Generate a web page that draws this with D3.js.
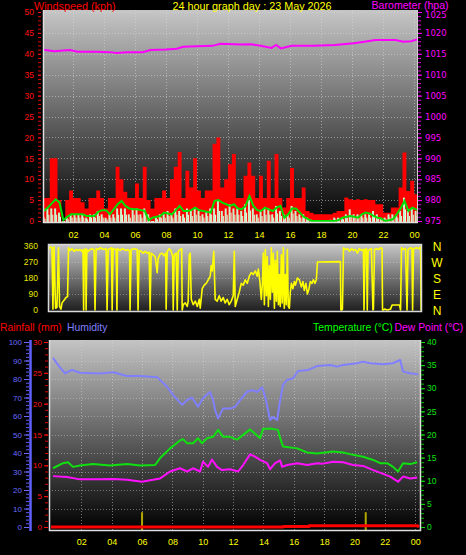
<!DOCTYPE html>
<html><head><meta charset="utf-8">
<script src="https://cdn.jsdelivr.net/npm/d3@7"></script>
<style>
body{margin:0;background:#000;}
svg{display:block;font-family:"Liberation Sans",Arial,sans-serif;}
</style>
</head><body>
<svg id="c" width="466" height="555"></svg>
<script>
// ---------------- DATA ----------------
const chartTitle = "24 hour graph day : 23 May 2026";
const timeTickHours = [2,4,6,8,10,12,14,16,18,20,22,24];
const timeTickLabels = ["02","04","06","08","10","12","14","16","18","20","22","00"];
const windTicks = [0,5,10,15,20,25,30,35,40,45,50];
const baroTicks = [975,980,985,990,995,1000,1005,1010,1015,1020,1025];
const dirTicks = [0,90,180,270,360];
const dirLetters = ["N","E","S","W","N"];
const humTicks = [0,10,20,30,40,50,60,70,80,90,100];
const rainTicks = [0,5,10,15,20,25,30];
const tempTicks = [0,5,10,15,20,25,30,35,40];

// wind, one value every quarter hour from 00:00
const windGust = [5.5,5.5,15,15,5,0,5,7.3,5.5,5.5,4.5,3,5.5,5.5,7.3,5.5,3,5.5,5.5,13,
  10,7,5.5,5.5,9,5.5,13,5,3,5.5,5.5,7.3,5.5,10,13,16.5,5.5,12,8,15,
  7.3,5.5,7.3,7.3,18.5,20,8,10,13.6,16,5.5,5.5,10.8,14,10.8,5.5,10.8,5.5,14.4,5.5,
  16,5.5,3.2,5.5,12.7,5.5,5.5,8,2.4,2,1.6,1.6,1.6,1.6,1.6,2,2.4,2.4,5.6,5.2,
  5,5.2,5,5.2,5,5,4,4,2,2,3.2,3.2,8,16.4,7.2,9.6,6.4,8];
const windSpeed = [1,3,3,3,2,0,0.8,1.6,1.6,1.6,1.6,0.8,1.6,1.6,2.4,1.6,0.8,1.6,1.6,3,
  3,3,1.6,3,3,1.6,3,1.6,0,0.8,1.6,1.6,2.4,1.6,3,2.4,1.6,3,2.4,3,
  2.4,1.6,2.4,3,3,4.8,2.4,3,4,3,3,2.4,4,5,3,1.6,2.4,3,3,1.6,
  3.6,2.4,1.6,1.6,3.6,2.4,1.6,1.6,0.8,0.3,0,0,0,0,0.3,0.8,0.8,0.8,1.6,2.8,
  1.6,1.6,1.6,1.6,1.6,2.4,1.6,0.8,0.8,1.6,1.6,1.6,2.4,5.6,2.4,3,2.4,3];
const windAvg = [2.4,3.2,4.2,5.2,4.4,0.2,1,1.6,1.6,1.6,1.6,1.2,1.2,1.2,2.2,2.6,2.6,1.6,2.8,4,
  4.8,3.6,3,2.8,2.8,2.6,2.4,0.2,0.8,1,1.2,2,1.8,1.6,2.6,3.6,2.4,2.4,2.6,3.2,
  2.6,2.4,2.2,2,4.8,5,4.4,4,3.6,4,3,2.8,3.6,6,3.6,2.6,2.4,3.2,2.8,2.4,
  3.2,3.6,0.8,1.6,3,3,2,1,0.5,0,0,0,0,0,0,0,0.2,0.8,1,1.2,
  1,0.8,1.6,2,1.8,1.2,0.8,0.6,0,0.2,0.4,1.6,3,4.8,2.4,3.2,2.8,2.4];

const baroHours = [0,0.8,1.8,2.3,3.5,4.4,4.8,5.5,6.5,7.0,8.0,8.7,9.1,10.0,11.0,11.5,12.8,13.5,14.1,14.8,15.1,15.4,16.1,17.5,18.9,20.1,20.8,21.5,22.8,23.3,23.8,24.25];
const baroValues = [1016.0,1015.6,1015.9,1015.5,1015.5,1015.4,1015.2,1015.4,1015.4,1015.9,1016.0,1016.2,1016.7,1016.8,1016.9,1017.4,1017.2,1017.3,1016.9,1016.4,1017.1,1016.3,1016.9,1016.9,1017.1,1017.5,1017.9,1018.3,1018.3,1017.9,1018.0,1018.5];

const dirHours = [0.03,0.13,0.26,0.32,0.39,0.49,0.58,0.68,0.75,0.84,0.91,1.04,1.17,1.27,1.33,1.43,1.56,1.69,1.82,1.95,
  2.08,2.21,2.27,2.31,2.35,2.44,2.47,2.52,2.60,2.73,2.86,2.99,3.05,3.12,3.25,3.38,3.51,3.64,3.77,3.83,
  3.90,4.03,4.12,4.16,4.22,4.42,4.47,4.51,4.68,4.81,4.94,5.06,5.19,5.29,5.32,5.39,5.58,5.78,5.84,5.91,
  6.04,6.17,6.30,6.43,6.56,6.62,6.69,6.82,6.95,7.08,7.14,7.27,7.40,7.53,7.63,7.66,7.73,7.86,7.99,8.08,
  8.12,8.18,8.31,8.38,8.44,8.57,8.67,8.70,8.77,8.90,9.03,9.09,9.16,9.22,9.29,9.42,9.55,9.68,9.81,9.87,
  10.00,10.13,10.26,10.39,10.52,10.58,10.65,10.75,10.84,10.97,11.10,11.23,11.36,11.49,11.62,11.75,11.88,12.01,12.08,12.14,
  12.27,12.40,12.53,12.66,12.79,12.92,13.05,13.18,13.31,13.44,13.57,13.64,13.73,13.83,13.90,13.96,14.03,14.09,14.16,14.22,
  14.29,14.35,14.42,14.48,14.55,14.61,14.68,14.74,14.81,14.87,14.94,15.00,15.06,15.13,15.19,15.26,15.32,15.39,15.45,15.52,
  15.58,15.65,15.71,15.78,15.88,15.97,16.04,16.17,16.30,16.43,16.53,16.62,16.72,16.82,16.92,17.01,17.11,17.21,17.31,17.40,
  17.47,18.96,18.99,19.06,19.09,19.16,19.29,19.42,19.55,19.68,19.81,19.94,20.06,20.19,20.32,20.45,20.49,20.55,20.65,20.70,
  20.75,20.84,20.97,21.07,21.10,21.17,21.30,21.43,21.56,21.66,21.69,21.75,21.82,22.01,22.21,22.31,22.79,22.86,22.92,23.05,
  23.18,23.28,23.34,23.51,23.60,23.64,23.70,23.90,24.09,24.16,24.19,24.22];
const dirDegrees = [340,355,350,5,355,10,15,350,20,5,40,55,70,75,350,335,345,330,340,335,
  340,330,340,0,335,345,0,340,330,340,345,335,0,345,340,350,345,340,345,0,
  340,345,350,0,345,340,0,345,335,345,340,335,340,330,0,340,345,340,0,335,
  330,320,330,320,325,0,320,310,300,210,290,315,320,305,320,5,330,345,330,300,
  0,310,320,0,330,340,345,0,30,40,20,50,310,320,60,30,50,20,60,10,
  120,140,150,170,190,250,220,330,60,50,80,50,70,40,60,30,50,80,330,20,
  60,100,150,140,170,150,190,210,200,220,190,230,170,60,150,320,30,340,80,300,
  20,250,60,350,100,320,10,280,50,330,30,200,20,310,40,350,10,200,30,340,
  20,10,100,150,120,160,140,180,170,130,160,110,150,90,120,160,150,170,150,170,
  270,272,0,0,5,350,340,345,330,345,335,340,320,345,335,340,0,340,345,0,
  330,340,345,0,5,340,345,340,350,345,0,0,5,0,5,28,28,0,350,340,
  345,0,340,350,345,0,345,350,345,355,0,0];

const humHours = [0.13,0.46,0.92,1.38,1.91,3.23,4.09,5.01,5.87,6.99,7.65,8.04,8.64,8.97,9.29,9.69,10.02,10.48,10.68,10.81,
  11.01,11.34,11.80,12.13,12.46,12.92,13.25,13.58,13.91,14.11,14.30,14.44,14.63,14.90,15.10,15.29,15.56,15.95,16.28,16.94,
  17.53,18.39,18.85,19.25,20.17,20.57,21.03,21.89,22.54,23.01,23.20,23.67,24.19];
const humValues = [91.5,87.6,83.1,84.9,83.4,83.0,83.6,81.6,81.6,81.0,75.8,71.4,66.0,68.6,70.0,65.0,69.7,73.0,68.6,63.3,
  58.7,64.0,64.0,65.0,68.6,73.1,74.0,73.0,75.5,70.5,63.2,57.8,59.5,57.8,68.6,76.8,79.5,80.4,84.3,84.9,
  87.0,87.6,86.7,87.6,88.5,89.4,88.5,88.0,88.5,90.3,84.0,83.1,82.5];

const tempHours = [0.13,0.79,1.12,1.45,1.91,2.77,3.89,5.01,5.87,6.86,7.19,7.85,8.50,8.70,8.97,9.36,9.69,9.95,10.28,10.68,
  11.01,11.34,11.80,12.26,13.12,13.78,13.97,14.44,14.96,15.10,15.29,16.22,16.88,17.53,18.59,19.25,19.91,20.57,21.23,21.69,
  22.15,22.54,22.87,23.20,23.67,24.13];
const tempValues = [12.7,13.8,14.0,13.0,13.3,13.6,13.3,13.6,13.3,13.4,14.9,17.0,18.7,19.0,18.1,18.1,19.2,18.1,19.2,19.5,
  21.0,19.5,19.5,18.9,21.1,19.2,21.2,21.3,21.0,19.2,17.4,17.0,16.1,15.9,16.3,16.1,15.6,15.2,14.5,13.8,
  13.8,13.0,12.0,13.8,13.6,14.0];

const dewHours = [0.13,1.05,1.91,3.23,4.09,5.01,6.00,6.72,7.19,7.85,8.50,8.97,9.36,9.82,10.02,10.35,10.61,10.94,11.27,11.80,
  12.33,12.66,13.12,13.45,13.78,14.24,14.44,14.77,15.10,15.23,15.56,16.22,16.88,17.53,17.93,18.59,19.25,19.91,20.57,21.23,
  21.89,22.35,22.87,23.20,23.67,24.13];
const dewValues = [11.0,10.8,10.3,10.3,10.4,10.2,9.8,10.2,10.5,12.0,12.7,12.0,12.7,12.0,14.1,13.0,14.6,13.0,12.3,12.5,
  12.0,13.4,15.7,15.2,14.5,13.8,12.5,13.8,14.4,13.0,13.4,13.8,13.4,13.8,13.7,14.1,14.0,13.4,13.2,12.3,
  11.5,10.9,9.8,10.9,10.5,10.7];

const rainHours = [0,15.3,15.3,17.0,17.0,24.15,24.25];
const rainValues = [0,0,0.1,0.1,0.2,0.2,0];
const rainRateHours = [6.0,20.74];
const rainRateValues = [2.4,2.4];

// ---------------- DRAW ----------------
const svg = d3.select("#c");
const defs = svg.append("defs");
function vgrad(id, c0, c1){
  const g = defs.append("linearGradient").attr("id",id).attr("x1",0).attr("y1",0).attr("x2",0).attr("y2",1);
  g.append("stop").attr("offset",0).attr("stop-color",c0);
  g.append("stop").attr("offset",1).attr("stop-color",c1);
}
vgrad("gTop","#c6c6c6","#030303");
vgrad("gMid","#c8c8c8","#1c1c1c");
vgrad("gBot","#c4c4c4","#000000");
function clip(id,x,y,w,h){defs.append("clipPath").attr("id",id).append("rect").attr("x",x).attr("y",y).attr("width",w).attr("height",h);}
const fmtInt = d3.format("d");

svg.append("rect").attr("width",466).attr("height",555).attr("fill","#000");

// ===== TOP PANEL =====
const T = {x0:43,x1:418,y0:10,y1:222};
const xTop = d3.scaleLinear().domain([0,24.25]).range([42,418]);
const yWind = d3.scaleLinear().domain([0,50]).range([221,12]);
const yBaro = d3.scaleLinear().domain([975,1025]).range([221,12]);
clip("cTop",T.x0,T.y0,T.x1-T.x0,T.y1-T.y0);
clip("cRightAx",418,11,48,240);
svg.append("rect").attr("x",T.x0).attr("y",T.y0).attr("width",T.x1-T.x0).attr("height",T.y1-T.y0).attr("fill","url(#gTop)");
const gTop = svg.append("g").attr("clip-path","url(#cTop)");
// grid
gTop.selectAll(".hg").data(windTicks.slice(1)).join("line")
  .attr("x1",T.x0).attr("x2",T.x1).attr("y1",d=>Math.round(yWind(d))+0.5).attr("y2",d=>Math.round(yWind(d))+0.5)
  .attr("stroke","#d8d8d8").attr("stroke-opacity",0.55).attr("stroke-dasharray","1,2");
gTop.selectAll(".vg").data(timeTickHours).join("line")
  .attr("y1",T.y0).attr("y2",T.y1).attr("x1",d=>Math.round(xTop(d))+0.5).attr("x2",d=>Math.round(xTop(d))+0.5)
  .attr("stroke","#d8d8d8").attr("stroke-opacity",0.55).attr("stroke-dasharray","1,2");
// gust area
const qh = d3.range(windGust.length).map(i=>i*0.25);
gTop.append("path").datum(qh.map((h,i)=>[h,windGust[i]]))
  .attr("d", d3.area().curve(d3.curveStepAfter).x(d=>xTop(d[0])).y0(yWind(0)+1).y1(d=>yWind(d[1])))
  .attr("fill","#ff0000");
// wind speed bars
gTop.selectAll(".ws").data(qh.map((h,i)=>[h,windSpeed[i]])).join("rect")
  .attr("x",d=>xTop(d[0])+0.5).attr("width",2)
  .attr("y",d=>yWind(d[1])).attr("height",d=>yWind(0)+1-yWind(d[1]))
  .attr("fill","#c8f2c8");
gTop.selectAll(".ws2").data(qh.map((h,i)=>[h,windSpeed[i]])).join("rect")
  .attr("x",d=>xTop(d[0])+2.5).attr("width",1)
  .attr("y",d=>yWind(d[1]*0.5)).attr("height",d=>yWind(0)+1-yWind(d[1]*0.5))
  .attr("fill","#e6ffe6");
// avg line
gTop.append("path").datum(qh.map((h,i)=>[h,windAvg[i]]))
  .attr("d", d3.line().x(d=>xTop(d[0])+2).y(d=>yWind(d[1])))
  .attr("fill","none").attr("stroke","#00e000").attr("stroke-width",2);
// barometer
gTop.append("path").datum(baroHours.map((h,i)=>[h,baroValues[i]]))
  .attr("d", d3.line().x(d=>xTop(d[0])).y(d=>yBaro(d[1])))
  .attr("fill","none").attr("stroke","#ff00ff").attr("stroke-width",2);
// frame
svg.append("path").attr("d",`M${T.x0+0.5},${T.y0}V${T.y1+0.5}H${T.x1}`).attr("fill","none").attr("stroke","#e0e0e0").attr("stroke-width",1.5);
svg.append("line").attr("x1",T.x1-0.5).attr("x2",T.x1-0.5).attr("y1",T.y0).attr("y2",T.y1).attr("stroke","#d0d0d0");

function styleAxis(g,color,fs,family){
  g.select(".domain").remove();
  g.selectAll("line").attr("stroke",color);
  g.selectAll("text").attr("fill",color).style("font-size",fs+"px").style("font-family",family||null);
  return g;
}
// left wind axis
styleAxis(svg.append("g").attr("transform","translate(41,0)")
  .call(d3.axisLeft(yWind).tickValues(d3.range(0,51,1)).tickSize(3).tickFormat("")),"#e00000",8);
styleAxis(svg.append("g").attr("transform","translate(41,0)")
  .call(d3.axisLeft(yWind).tickValues(windTicks).tickSize(3).tickPadding(4).tickFormat(fmtInt)),"#ff1010",8.5);
// right baro axis (top label partly hidden under the title, as in the source)
const rightAx = svg.append("g").attr("clip-path","url(#cRightAx)");
styleAxis(rightAx.append("g").attr("transform","translate(418,0)")
  .call(d3.axisRight(yBaro).tickValues(d3.range(975,1026,1)).tickSize(3).tickFormat("")),"#e000e0",8);
const baroAx = styleAxis(rightAx.append("g").attr("transform","translate(418,0)")
  .call(d3.axisRight(yBaro).tickValues(baroTicks).tickSize(4).tickPadding(3).tickFormat(fmtInt)),"#ff00ff",8.5,"DejaVu Sans");
baroAx.selectAll(".tick").filter(d=>d===1025).select("text").attr("dy","0.62em");
// time labels (top)
const tlab = d3.scaleOrdinal().domain(timeTickHours).range(timeTickLabels);
styleAxis(svg.append("g").attr("transform","translate(0,222)")
  .call(d3.axisBottom(xTop).tickValues(timeTickHours).tickSize(0).tickPadding(9.5).tickFormat(d=>tlab(d))),"#ffff00",9);

// titles
svg.append("text").attr("x",34).attr("y",9.5).attr("fill","#ff0000").style("font-size","10.8px").text("Windspeed (kph)");
svg.append("text").attr("x",172.5).attr("y",9.5).attr("fill","#ffff00").style("font-size","10.8px").text(chartTitle);
svg.append("text").attr("x",371.5).attr("y",9).attr("fill","#ff00ff").style("font-size","10.6px").text("Barometer (hpa)");

// ===== MIDDLE PANEL (direction) =====
const M = {x0:48,x1:422,y0:244,y1:312};
const xMid = d3.scaleLinear().domain([0,24.25]).range([48,422]);
const yDir = d3.scaleLinear().domain([0,360]).range([310,246]);
clip("cMid",M.x0,M.y0,M.x1-M.x0,M.y1-M.y0);
svg.append("rect").attr("x",M.x0).attr("y",M.y0).attr("width",M.x1-M.x0).attr("height",M.y1-M.y0).attr("fill","url(#gMid)");
const gMid = svg.append("g").attr("clip-path","url(#cMid)");
gMid.selectAll(".hg").data([90,180,270]).join("line")
  .attr("x1",M.x0).attr("x2",M.x1).attr("y1",d=>Math.round(yDir(d))+0.5).attr("y2",d=>Math.round(yDir(d))+0.5)
  .attr("stroke","#d8d8d8").attr("stroke-opacity",0.4).attr("stroke-dasharray","1,2");
gMid.append("path").datum(dirHours.map((h,i)=>[h,dirDegrees[i]]))
  .attr("d", d3.line().x(d=>xMid(d[0])).y(d=>yDir(d[1])))
  .attr("fill","none").attr("stroke","#ffff00").attr("stroke-width",1.6).attr("stroke-linejoin","round");
svg.append("rect").attr("x",M.x0+0.5).attr("y",M.y0+0.5).attr("width",M.x1-M.x0-1).attr("height",M.y1-M.y0-1)
  .attr("fill","none").attr("stroke","#d8d8d8").attr("stroke-width",1.5);
styleAxis(svg.append("g").attr("transform","translate(48,0)")
  .call(d3.axisLeft(yDir).tickValues(dirTicks).tickSize(0).tickPadding(10).tickFormat(fmtInt)),"#e8e800",8.5);
svg.append("g").selectAll("text").data(dirTicks).join("text")
  .attr("x",437).attr("y",d=>yDir(d)+4.5).attr("text-anchor","middle")
  .attr("fill","#ffff00").style("font-size","12px").text((d,i)=>dirLetters[i]);

// ===== BOTTOM PANEL =====
const B = {x0:49,x1:421,y0:340,y1:530};
const xBot = d3.scaleLinear().domain([0,24.25]).range([51,419]);
const yHum = d3.scaleLinear().domain([0,100]).range([527,342]);
const yRain = d3.scaleLinear().domain([0,30]).range([527,342]);
const yTemp = d3.scaleLinear().domain([0,40]).range([527,342]);
clip("cBot",B.x0,B.y0,B.x1-B.x0,B.y1-B.y0);
svg.append("rect").attr("x",B.x0).attr("y",B.y0).attr("width",B.x1-B.x0).attr("height",B.y1-B.y0).attr("fill","url(#gBot)");
const gBot = svg.append("g").attr("clip-path","url(#cBot)");
gBot.selectAll(".hg").data(humTicks.slice(1,10)).join("line")
  .attr("x1",B.x0).attr("x2",B.x1).attr("y1",d=>Math.round(yHum(d))+0.5).attr("y2",d=>Math.round(yHum(d))+0.5)
  .attr("stroke","#d8d8d8").attr("stroke-opacity",0.45).attr("stroke-dasharray","1,2");
gBot.selectAll(".vg").data(timeTickHours).join("line")
  .attr("y1",B.y0).attr("y2",B.y1).attr("x1",d=>Math.round(xBot(d))+0.5).attr("x2",d=>Math.round(xBot(d))+0.5)
  .attr("stroke","#d8d8d8").attr("stroke-opacity",0.5).attr("stroke-dasharray","1,2");
// rain rate bars
gBot.selectAll(".rr").data(rainRateHours.map((h,i)=>[h,rainRateValues[i]])).join("rect")
  .attr("x",d=>xBot(d[0])-1).attr("width",2).attr("y",d=>yRain(d[1])).attr("height",d=>B.y1-yRain(d[1]))
  .attr("fill","#b0a800");
function ln(hs,vs,sc,color,w){
  gBot.append("path").datum(hs.map((h,i)=>[h,vs[i]]))
    .attr("d", d3.line().x(d=>xBot(d[0])).y(d=>sc(d[1])))
    .attr("fill","none").attr("stroke",color).attr("stroke-width",w).attr("stroke-linejoin","round");
}
ln(humHours,humValues,yHum,"#8080ff",2);
ln(tempHours,tempValues,yTemp,"#10e010",2);
ln(dewHours,dewValues,yTemp,"#ff10ff",2);
ln(rainHours,rainValues,yRain,"#ff0000",3);
svg.append("path").attr("d",`M${B.x0+0.5},${B.y0}V${B.y1+0.5}H${B.x1-0.5}V${B.y0}`).attr("fill","none").attr("stroke","#e0e0e0").attr("stroke-width",1.5);

// humidity axis
svg.append("line").attr("x1",30.5).attr("x2",30.5).attr("y1",340).attr("y2",531).attr("stroke","#6060ff").attr("stroke-width",2.5);
styleAxis(svg.append("g").attr("transform","translate(29,0)")
  .call(d3.axisLeft(yHum).tickValues(d3.range(0,101,2)).tickSize(3).tickFormat("")),"#6060ff",8);
styleAxis(svg.append("g").attr("transform","translate(29,0)")
  .call(d3.axisLeft(yHum).tickValues(humTicks).tickSize(5).tickPadding(2).tickFormat(fmtInt)),"#6a6aff",8);
// rain axis
styleAxis(svg.append("g").attr("transform","translate(48,0)")
  .call(d3.axisLeft(yRain).tickValues(d3.range(0,31,1)).tickSize(3).tickFormat("")),"#e00000",8);
styleAxis(svg.append("g").attr("transform","translate(48,0)")
  .call(d3.axisLeft(yRain).tickValues(rainTicks).tickSize(4).tickPadding(2).tickFormat(fmtInt)),"#ff1010",8);
// temperature axis
styleAxis(svg.append("g").attr("transform","translate(421,0)")
  .call(d3.axisRight(yTemp).tickValues(d3.range(0,41,1)).tickSize(3).tickFormat("")),"#00c000",8);
styleAxis(svg.append("g").attr("transform","translate(421,0)")
  .call(d3.axisRight(yTemp).tickValues(tempTicks).tickSize(4).tickPadding(2).tickFormat(fmtInt)),"#10e010",8.5);
// bottom time labels
styleAxis(svg.append("g").attr("transform","translate(0,530)")
  .call(d3.axisBottom(xBot).tickValues(timeTickHours).tickSize(0).tickPadding(8.5).tickFormat(d=>tlab(d))),"#ffff00",9);

// headers
svg.append("text").attr("x",0).attr("y",331).attr("fill","#ff0000").style("font-size","10.4px").text("Rainfall (mm)");
svg.append("text").attr("x",67).attr("y",331).attr("fill","#8080ff").style("font-size","10.4px").text("Humidity");
svg.append("text").attr("x",313).attr("y",331).attr("fill","#00ff00").style("font-size","10.4px").text("Temperature (°C)");
svg.append("text").attr("x",394.5).attr("y",331).attr("fill","#ff00ff").style("font-size","10.4px").text("Dew Point (°C)");
</script>
</body></html>
